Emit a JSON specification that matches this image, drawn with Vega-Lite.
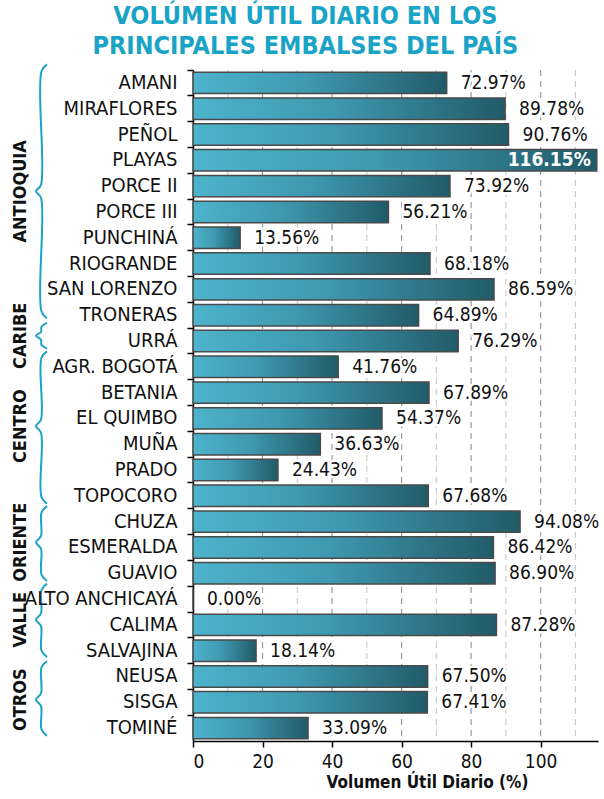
{
  "$schema": "https://vega.github.io/schema/vega-lite/v6.json",
  "padding": {"top": 4, "left": 0, "right": 4, "bottom": 0},
  "background": "white",
  "title": {
    "text": ["VOLÚMEN ÚTIL DIARIO EN LOS", "PRINCIPALES EMBALSES DEL PAÍS"],
    "font": "Liberation Sans Narrow, Arial Narrow, DejaVu Sans Condensed, Liberation Sans, sans-serif",
    "fontSize": 25,
    "fontWeight": "bold",
    "lineHeight": 30,
    "color": "#19A3C6",
    "anchor": "middle",
    "offset": 1
  },
  "datasets": {
    "bars": [
      {"name": "AMANI", "value": 72.97, "label": "72.97%"},
      {"name": "MIRAFLORES", "value": 89.78, "label": "89.78%"},
      {"name": "PEÑOL", "value": 90.76, "label": "90.76%"},
      {"name": "PLAYAS", "value": 116.15, "label": "116.15%"},
      {"name": "PORCE II", "value": 73.92, "label": "73.92%"},
      {"name": "PORCE III", "value": 56.21, "label": "56.21%"},
      {"name": "PUNCHINÁ", "value": 13.56, "label": "13.56%"},
      {"name": "RIOGRANDE", "value": 68.18, "label": "68.18%"},
      {"name": "SAN LORENZO", "value": 86.59, "label": "86.59%"},
      {"name": "TRONERAS", "value": 64.89, "label": "64.89%"},
      {"name": "URRÁ", "value": 76.29, "label": "76.29%"},
      {"name": "AGR. BOGOTÁ", "value": 41.76, "label": "41.76%"},
      {"name": "BETANIA", "value": 67.89, "label": "67.89%"},
      {"name": "EL QUIMBO", "value": 54.37, "label": "54.37%"},
      {"name": "MUÑA", "value": 36.63, "label": "36.63%"},
      {"name": "PRADO", "value": 24.43, "label": "24.43%"},
      {"name": "TOPOCORO", "value": 67.68, "label": "67.68%"},
      {"name": "CHUZA", "value": 94.08, "label": "94.08%"},
      {"name": "ESMERALDA", "value": 86.42, "label": "86.42%"},
      {"name": "GUAVIO", "value": 86.90, "label": "86.90%"},
      {"name": "ALTO ANCHICAYÁ", "value": 0, "label": "0.00%"},
      {"name": "CALIMA", "value": 87.28, "label": "87.28%"},
      {"name": "SALVAJINA", "value": 18.14, "label": "18.14%"},
      {"name": "NEUSA", "value": 67.50, "label": "67.50%"},
      {"name": "SISGA", "value": 67.41, "label": "67.41%"},
      {"name": "TOMINÉ", "value": 33.09, "label": "33.09%"}
    ],
    "gridMajor": [{"value": 20}, {"value": 40}, {"value": 60}, {"value": 80}, {"value": 100}],
    "gridMinor": [{"value": 10}, {"value": 30}, {"value": 50}, {"value": 70}, {"value": 90}, {"value": 110}],
    "groups": [
      {"group": "ANTIOQUIA", "row": 4.7, "gx": 21},
      {"group": "CARIBE", "row": 10.3, "gx": 21},
      {"group": "CENTRO", "row": 13.8, "gx": 21},
      {"group": "ORIENTE", "row": 18.3, "gx": 21},
      {"group": "VALLE", "row": 21.3, "gx": 21},
      {"group": "OTROS", "row": 24.4, "gx": 21}
    ],
    "braces": [
      {"g": "ANTIOQUIA", "s": 1, "bx": 47, "by": -0.22},
      {"g": "ANTIOQUIA", "s": 2, "bx": 41.5, "by": 0.05},
      {"g": "ANTIOQUIA", "s": 3, "bx": 41, "by": 4.45},
      {"g": "ANTIOQUIA", "s": 4, "bx": 36, "by": 4.7},
      {"g": "ANTIOQUIA", "s": 5, "bx": 41, "by": 4.95},
      {"g": "ANTIOQUIA", "s": 6, "bx": 41.5, "by": 9.35},
      {"g": "ANTIOQUIA", "s": 7, "bx": 47, "by": 9.62},
      {"g": "CARIBE", "s": 1, "bx": 47, "by": 9.8},
      {"g": "CARIBE", "s": 2, "bx": 41.5, "by": 9.95},
      {"g": "CARIBE", "s": 3, "bx": 41, "by": 10.15},
      {"g": "CARIBE", "s": 4, "bx": 36, "by": 10.3},
      {"g": "CARIBE", "s": 5, "bx": 41, "by": 10.45},
      {"g": "CARIBE", "s": 6, "bx": 41.5, "by": 10.65},
      {"g": "CARIBE", "s": 7, "bx": 47, "by": 10.8},
      {"g": "CENTRO", "s": 1, "bx": 47, "by": 10.9},
      {"g": "CENTRO", "s": 2, "bx": 41.5, "by": 11.15},
      {"g": "CENTRO", "s": 3, "bx": 41, "by": 13.55},
      {"g": "CENTRO", "s": 4, "bx": 36, "by": 13.8},
      {"g": "CENTRO", "s": 5, "bx": 41, "by": 14.05},
      {"g": "CENTRO", "s": 6, "bx": 41.5, "by": 16.55},
      {"g": "CENTRO", "s": 7, "bx": 47, "by": 16.8},
      {"g": "ORIENTE", "s": 1, "bx": 47, "by": 16.9},
      {"g": "ORIENTE", "s": 2, "bx": 41.5, "by": 17.15},
      {"g": "ORIENTE", "s": 3, "bx": 41, "by": 18.05},
      {"g": "ORIENTE", "s": 4, "bx": 36, "by": 18.3},
      {"g": "ORIENTE", "s": 5, "bx": 41, "by": 18.55},
      {"g": "ORIENTE", "s": 6, "bx": 41.5, "by": 19.55},
      {"g": "ORIENTE", "s": 7, "bx": 47, "by": 19.8},
      {"g": "VALLE", "s": 1, "bx": 47, "by": 19.9},
      {"g": "VALLE", "s": 2, "bx": 41.5, "by": 20.15},
      {"g": "VALLE", "s": 3, "bx": 41, "by": 21.05},
      {"g": "VALLE", "s": 4, "bx": 36, "by": 21.3},
      {"g": "VALLE", "s": 5, "bx": 41, "by": 21.55},
      {"g": "VALLE", "s": 6, "bx": 41.5, "by": 22.5},
      {"g": "VALLE", "s": 7, "bx": 47, "by": 22.75},
      {"g": "OTROS", "s": 1, "bx": 47, "by": 22.9},
      {"g": "OTROS", "s": 2, "bx": 41.5, "by": 23.15},
      {"g": "OTROS", "s": 3, "bx": 41, "by": 24.15},
      {"g": "OTROS", "s": 4, "bx": 36, "by": 24.4},
      {"g": "OTROS", "s": 5, "bx": 41, "by": 24.65},
      {"g": "OTROS", "s": 6, "bx": 41.5, "by": 25.55},
      {"g": "OTROS", "s": 7, "bx": 47, "by": 25.8}
    ]
  },
  "config": {
    "view": {"stroke": null},
    "font": "Liberation Sans Narrow, Arial Narrow, DejaVu Sans Condensed, Liberation Sans, sans-serif"
  },
  "spacing": 138,
  "bounds": "flush",
  "hconcat": [
    {
      "width": 55,
      "height": 671,
      "layer": [
        {
          "data": {"name": "braces"},
          "mark": {"type": "line", "interpolate": "catmull-rom", "color": "#1AA3C6", "strokeWidth": 2},
          "encoding": {
            "x": {"field": "bx", "type": "quantitative", "scale": {"domain": [0, 55], "nice": false, "zero": false}, "axis": null},
            "y": {"field": "by", "type": "quantitative", "scale": {"domain": [0, 26], "nice": false, "zero": false, "reverse": true}, "axis": null},
            "detail": {"field": "g"},
            "order": {"field": "s"}
          }
        },
        {
          "data": {"name": "groups"},
          "mark": {"type": "text", "angle": 270, "align": "center", "baseline": "middle", "fontSize": 18, "fontWeight": "bold", "color": "#111111"},
          "encoding": {
            "x": {"field": "gx", "type": "quantitative"},
            "y": {"field": "row", "type": "quantitative"},
            "text": {"field": "group"}
          }
        }
      ]
    },
    {
      "width": 405,
      "height": 671,
      "data": {"name": "bars"},
      "encoding": {
        "x": {
          "field": "value",
          "type": "quantitative",
          "scale": {"domain": [0, 116.5], "nice": false, "zero": true},
          "axis": {
            "values": [0, 20, 40, 60, 80, 100],
            "grid": false,
            "title": "Volumen Útil Diario (%)",
            "titleFontSize": 17,
            "titleFontWeight": "bold",
            "titleColor": "#111111",
            "titlePadding": 3,
            "titleX": 234,
            "titleAnchor": "middle",
            "labelFontSize": 19,
            "labelColor": "#111111",
            "labelPadding": 5,
            "tickSize": 6,
            "tickColor": "#000000",
            "domainColor": "#000000",
            "domainWidth": 1.5,
            "tickWidth": 1.5
          }
        }
      },
      "layer": [
        {
          "data": {"name": "gridMinor"},
          "mark": {"type": "rule", "color": "#cccccc", "strokeWidth": 1.2, "strokeDash": [6, 5]},
          "encoding": {}
        },
        {
          "data": {"name": "gridMajor"},
          "mark": {"type": "rule", "color": "#999999", "strokeWidth": 1.2, "strokeDash": [6, 5]},
          "encoding": {}
        },
        {
          "mark": {"type": "text", "align": "left", "baseline": "middle", "dx": 14, "fontSize": 19, "color": "white", "stroke": "white", "strokeWidth": 5},
          "encoding": {
            "y": {"field": "name", "type": "nominal", "sort": null},
            "text": {"condition": {"test": "datum.name == 'PLAYAS'", "value": ""}, "field": "label"}
          }
        },
        {
          "mark": {
            "type": "bar",
            "stroke": "#4a4a4a",
            "strokeWidth": 1.5,
            "fill": {
              "gradient": "linear",
              "x1": 0, "y1": 0, "x2": 1, "y2": 0,
              "stops": [
                {"offset": 0, "color": "#4DB3CB"},
                {"offset": 0.45, "color": "#3F99B0"},
                {"offset": 1, "color": "#215B69"}
              ]
            }
          },
          "encoding": {
            "y": {
              "field": "name",
              "type": "nominal",
              "sort": null,
              "scale": {"paddingInner": 0.17, "paddingOuter": 0.085},
              "axis": {
                "title": null,
                "labelFontSize": 20,
                "labelColor": "#111111",
                "labelPadding": 10,
                "labelLimit": 300,
                "bandPosition": -0.1,
                "tickSize": 6,
                "tickColor": "#000000",
                "tickWidth": 1.5,
                "domainColor": "#000000",
                "domainWidth": 1.5
              }
            }
          }
        },
        {
          "transform": [{"filter": "datum.name != 'PLAYAS'"}],
          "mark": {"type": "text", "align": "left", "baseline": "middle", "dx": 14, "fontSize": 19, "color": "#111111"},
          "encoding": {
            "y": {"field": "name", "type": "nominal", "sort": null},
            "text": {"field": "label"}
          }
        },
        {
          "transform": [{"filter": "datum.name == 'PLAYAS'"}],
          "mark": {"type": "text", "align": "right", "baseline": "middle", "dx": -6, "fontSize": 19, "fontWeight": "bold", "color": "white"},
          "encoding": {
            "y": {"field": "name", "type": "nominal", "sort": null},
            "text": {"field": "label"}
          }
        }
      ]
    }
  ]
}
